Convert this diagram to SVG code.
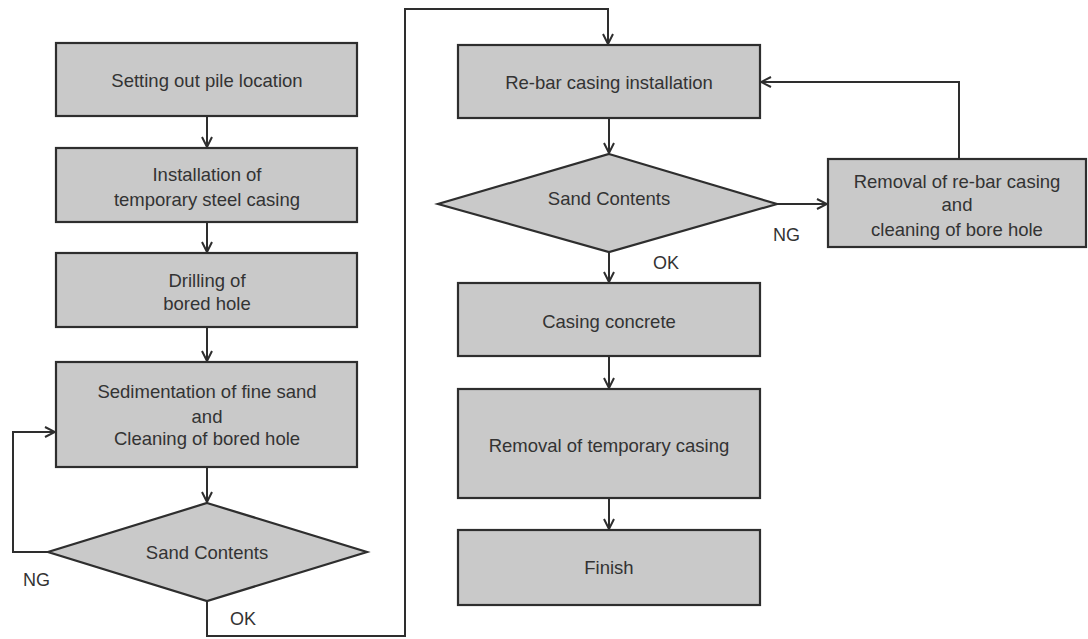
<svg xmlns="http://www.w3.org/2000/svg" width="1088" height="639" viewBox="0 0 1088 639">
<defs>
<marker id="arr" viewBox="0 0 12 12" refX="11" refY="6" markerWidth="12" markerHeight="12" markerUnits="userSpaceOnUse" orient="auto">
<path d="M1,1 L11,6 L1,11" fill="none" stroke="#2e2e2e" stroke-width="2"/>
</marker>
</defs>
<style>
.box{fill:#c9c9c9;stroke:#2e2e2e;stroke-width:2.2}
.t{font-family:"Liberation Sans",Arial,sans-serif;font-size:18.5px;fill:#333;text-anchor:middle}
.lbl{font-family:"Liberation Sans",Arial,sans-serif;font-size:18px;fill:#333}
.c{fill:none;stroke:#2e2e2e;stroke-width:2}
</style>
<rect width="1088" height="639" fill="#fff"/>
<g id="connectors">
<path class="c" d="M207,116 V147" marker-end="url(#arr)"/>
<path class="c" d="M207,222 V252" marker-end="url(#arr)"/>
<path class="c" d="M207,327 V361" marker-end="url(#arr)"/>
<path class="c" d="M207,467 V502" marker-end="url(#arr)"/>
<path class="c" d="M48,552 H13 V432 H55" marker-end="url(#arr)"/>
<path class="c" d="M207,601 V636 H405 V9 H608 V44" marker-end="url(#arr)"/>
<path class="c" d="M609,118 V153" marker-end="url(#arr)"/>
<path class="c" d="M777,204 H827" marker-end="url(#arr)"/>
<path class="c" d="M959,159 V82 H761" marker-end="url(#arr)"/>
<path class="c" d="M609,252 V282" marker-end="url(#arr)"/>
<path class="c" d="M609,356 V388" marker-end="url(#arr)"/>
<path class="c" d="M609,498 V529" marker-end="url(#arr)"/>
</g>
<g id="n1"><rect class="box" x="56" y="43" width="301" height="73"/><text class="t" x="207" y="87">Setting out pile location</text></g>
<g id="n2"><rect class="box" x="56" y="148" width="301" height="74"/><text class="t" x="207" y="181">Installation  of</text><text class="t" x="207" y="206">temporary steel casing</text></g>
<g id="n3"><rect class="box" x="56" y="253" width="301" height="74"/><text class="t" x="207" y="287">Drilling  of</text><text class="t" x="207" y="310">bored hole</text></g>
<g id="n4"><rect class="box" x="56" y="362" width="301" height="105"/><text class="t" x="207" y="398">Sedimentation of fine sand</text><text class="t" x="207" y="423">and</text><text class="t" x="207" y="445">Cleaning of bored hole</text></g>
<g id="d1"><polygon class="box" points="207,503 367,552 207,601 48,552"/><text class="t" x="207" y="559">Sand Contents</text></g>
<g id="n5"><rect class="box" x="458" y="45" width="302" height="73"/><text class="t" x="609" y="89">Re-bar casing installation</text></g>
<g id="d2"><polygon class="box" points="609,154 777,204 609,252 438,204"/><text class="t" x="609" y="205">Sand Contents</text></g>
<g id="n6"><rect class="box" x="828" y="159" width="258" height="88"/><text class="t" x="957" y="188">Removal of re-bar casing</text><text class="t" x="957" y="211">and</text><text class="t" x="957" y="236">cleaning of bore hole</text></g>
<g id="n7"><rect class="box" x="458" y="283" width="302" height="73"/><text class="t" x="609" y="328">Casing concrete</text></g>
<g id="n8"><rect class="box" x="458" y="389" width="302" height="109"/><text class="t" x="609" y="452">Removal of temporary casing</text></g>
<g id="n9"><rect class="box" x="458" y="530" width="302" height="75"/><text class="t" x="609" y="574">Finish</text></g>
<g id="labels">
<text class="lbl" x="23" y="586">NG</text>
<text class="lbl" x="230" y="625">OK</text>
<text class="lbl" x="653" y="269">OK</text>
<text class="lbl" x="773" y="241">NG</text>
</g>
</svg>
